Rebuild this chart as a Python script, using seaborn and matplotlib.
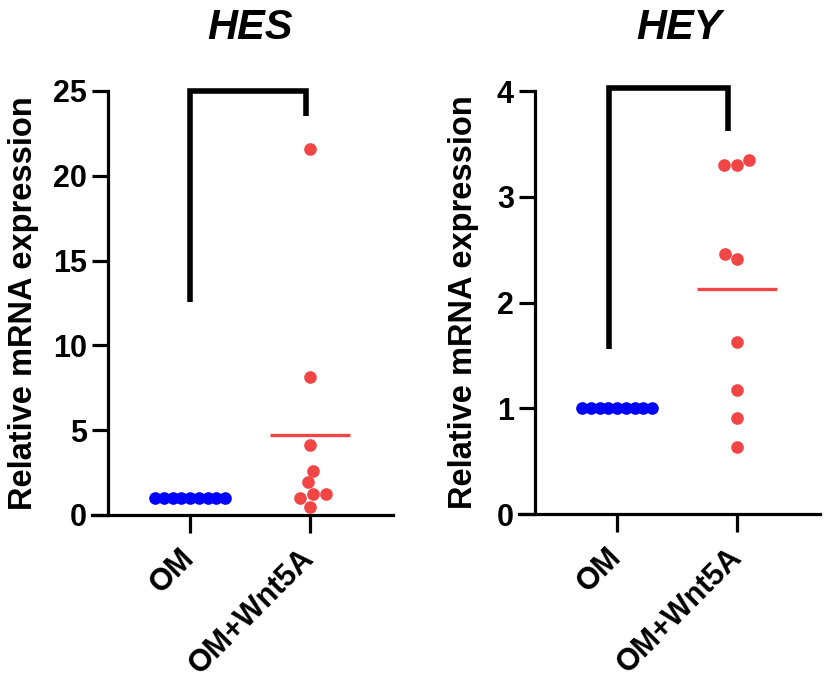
import numpy as np
import pandas as pd
import matplotlib
matplotlib.use("Agg")
import matplotlib.pyplot as plt
import seaborn as sns

# ---------------- data ----------------
groups = ["OM", "OM+Wnt5A"]
genes = ["HES", "HEY"]

hes_om = [1.00, 1.00, 1.00, 1.00, 1.00, 1.00, 1.00, 1.00, 1.00]
hes_wnt5a = [21.6, 8.15, 4.13, 2.61, 1.93, 1.24, 1.24, 0.98, 0.49]
hey_om = [1.00, 1.00, 1.00, 1.00, 1.00, 1.00, 1.00, 1.00, 1.00]
hey_wnt5a = [3.35, 3.30, 3.30, 2.46, 2.41, 1.63, 1.17, 0.91, 0.63]

hes_yticks = [0, 5, 10, 15, 20, 25]
hey_yticks = [0, 1, 2, 3, 4]

# significance brackets (left foot, top, right foot) in data units
hes_bracket = (12.56, 25.0, 23.5)
hey_bracket = (1.56, 4.03, 3.62)

BLUE = "#0000FF"
RED = "#F24545"

sns.set_theme(style="ticks")
plt.rcParams["font.family"] = ["Liberation Sans", "DejaVu Sans"]
plt.rcParams["font.weight"] = "bold"
for k in ["text.color", "axes.labelcolor", "xtick.color", "ytick.color", "axes.edgecolor"]:
    plt.rcParams[k] = "black"

fig = plt.figure(figsize=(8.25, 6.88), dpi=100)
ax1 = fig.add_axes([0.1115, 0.2515, 0.3648, 0.6163])
ax2 = fig.add_axes([0.6291, 0.2529, 0.3648, 0.6148])

XLIM = (-0.817, 1.69)
YSPINE = -0.68
LW = 2.3

panels = [
    (ax1, "HES", hes_om, hes_wnt5a, hes_yticks, hes_bracket, (0.0, -0.035), 0.525, -0.176),
    (ax2, "HEY", hey_om, hey_wnt5a, hey_yticks, hey_bracket, (-0.07, -0.075), 0.53, -0.133),
]

frozen = []
for ax, gene, om, wnt, yticks, br, brx, tx, ylx in panels:
    df_om = pd.DataFrame({"group": ["OM"] * len(om), "value": om})
    df_w = pd.DataFrame({"group": ["OM+Wnt5A"] * len(wnt), "value": wnt})

    # mean lines
    for i, (vals, col) in enumerate([(om, BLUE), (wnt, RED)]):
        ax.hlines(np.mean(vals), i - 0.333, i + 0.333, color=col, lw=2.4, zorder=1)

    n0 = len(ax.collections)
    sns.swarmplot(data=df_om, x="group", y="value", order=groups, color=BLUE,
                  size=6.0, linewidth=0, ax=ax, zorder=3)
    frozen.extend(ax.collections[n0:])
    sns.swarmplot(data=df_w, x="group", y="value", order=groups, color=RED,
                  size=9.1, linewidth=0, ax=ax, zorder=3)

    ax.set_xlim(*XLIM)
    ax.set_ylim(yticks[0], yticks[-1])
    ax.set_yticks(yticks)
    ax.set_xticks(range(len(groups)))
    ax.set_xticklabels(groups)

    for s in ["top", "right"]:
        ax.spines[s].set_visible(False)
    ax.spines["left"].set_position(("data", YSPINE))
    ax.spines["left"].set_linewidth(LW)
    ax.spines["bottom"].set_linewidth(LW)
    ax.spines["left"].set_color("black")
    ax.spines["bottom"].set_color("black")

    ax.tick_params(axis="y", length=11.5, width=LW, labelsize=22, pad=4, color="black",
                   labelcolor="black")
    ax.tick_params(axis="x", length=13, width=LW, labelsize=22, pad=15, color="black",
                   labelcolor="black")
    for lab in ax.get_xticklabels():
        lab.set_rotation(45)
        lab.set_ha("right")
        lab.set_va("center")
        lab.set_rotation_mode("anchor")
        lab.set_fontweight("bold")
    for lab in ax.get_yticklabels():
        lab.set_fontweight("bold")

    ax.set_xlabel("")
    ax.set_ylabel("Relative mRNA expression", fontsize=23.5, fontweight="bold", color="black")
    ax.yaxis.set_label_coords(ylx, 0.5)

    ax.text(tx, 1.123, gene, transform=ax.transAxes, ha="center", va="baseline",
            fontsize=30, fontweight="bold", fontstyle="italic", color="black")

    lo, top, ro = br
    ax.plot([brx[0], brx[0], 1 + brx[1], 1 + brx[1]], [lo, top, top, ro],
            color="black", lw=4.0, solid_joinstyle="miter", solid_capstyle="butt",
            clip_on=False, zorder=2)

# compute swarm layouts with final geometry, then enlarge the tightly packed OM dots
fig.canvas.draw()
for coll in frozen:
    coll.set_sizes([9.1 ** 2])
    if "draw" in coll.__dict__:
        del coll.draw

fig.savefig("out.png", dpi=100, facecolor="white")
